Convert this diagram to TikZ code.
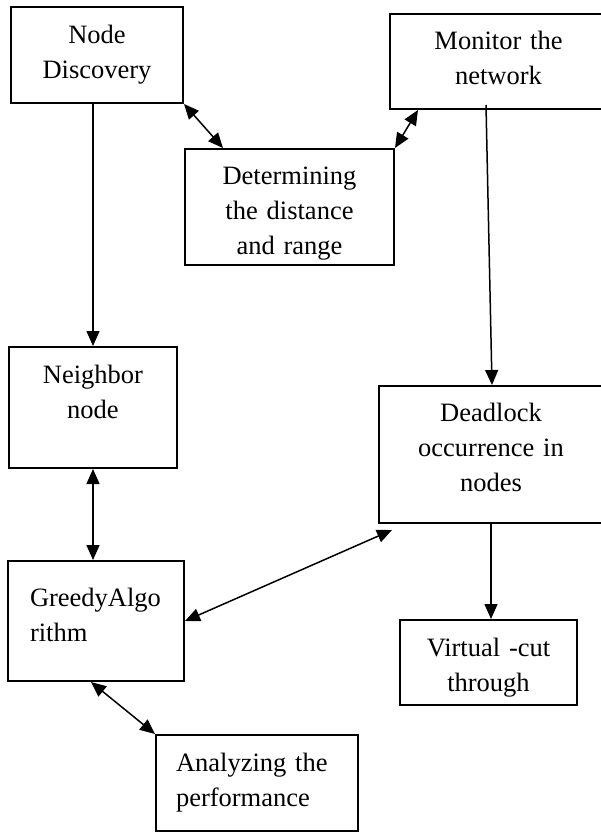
\documentclass[tikz,border=0pt]{standalone}
\usepackage{fontspec}
\setmainfont{Liberation Serif}
\usepackage{tikz}
\usetikzlibrary{arrows.meta,calc}

\begin{document}
\begin{tikzpicture}[
          x=0.4pt, y=-0.4pt,
          box/.style = {draw, line width=0.8pt, anchor=north west, inner sep=0pt,
                        align=center, font=\fontsize{10.6}{14}\selectfont},
          lbox/.style = {box, align=left},
          arr/.style = {-{Triangle[length=6pt,width=5.2pt]}, line width=0.6pt},
          darr/.style = {{Triangle[length=6pt,width=5.2pt]}-{Triangle[length=6pt,width=5.2pt]}, line width=0.6pt},
        ]
        \useasboundingbox (0,0) rectangle (600,833);
        \node[box, text width=68.8pt, text height=14.4pt, text depth=24pt] (disc) at (10,6) {Node\\Discovery};
        \node[box, text width=86.8pt, text height=14pt, text depth=24pt] (mon) at (389,13) {Monitor the\\network};
        \node[box, text width=83.6pt, text height=14pt, text depth=32.4pt] (det) at (184,148) {Determining\\the distance\\and range};
        \node[box, text width=67.2pt, text height=14.4pt, text depth=34pt] (nbr) at (8,346) {Neighbor\\node};
        \node[box, text width=89.6pt, text height=14pt, text depth=40.8pt] (dead) at (378,385) {Deadlock\\occurrence in\\nodes};
        \node[lbox, inner xsep=8.8pt, text width=52.8pt, text height=18pt, text depth=30pt] (grd) at (7,560) {GreedyAlgo\\rithm};
        \node[box, text width=70.8pt, text height=14.4pt, text depth=19.6pt] (virt) at (399,619) {Virtual -cut\\through};
        \node[lbox, inner xsep=8pt, text width=64.8pt, text height=14.4pt, text depth=24pt] (ana) at (155,734) {Analyzing the\\performance};

        \draw[darr] (disc.south east) -- ($(det.north west)+(39,0)$);
        \draw[darr] (det.north east) -- ($(mon.south west)+(29,0)$);
        \draw[arr] ($(mon.south west)+(97,-5)$) -- ($(dead.north west)+(114,0)$);
        \draw[arr] (disc.south -| nbr.north) -- (nbr.north);
        \draw[darr] (nbr.south) -- (nbr.south |- grd.north);
        \draw[darr] (grd.east) -- ($(dead.south west)+(14,6)$);
        \draw[arr] (dead.south) -- (dead.south |- virt.north);
        \draw[darr] ($(grd.south)+(-5,0)$) -- (ana.north west);
      \end{tikzpicture}
\end{document}
